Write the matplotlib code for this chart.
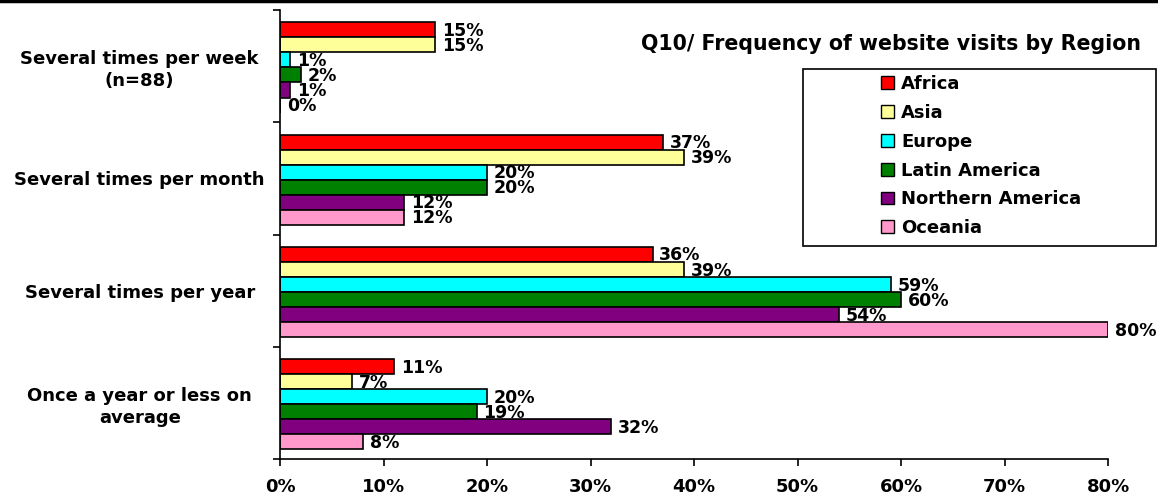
import numpy as np
import matplotlib.pyplot as plt
from matplotlib.patches import Patch, Rectangle
from matplotlib.lines import Line2D

plt.rcParams["font.family"] = ["DejaVu Sans"]
plt.rcParams["font.weight"] = "bold"

categories = [
    "Several times per week\n(n=88)",
    "Several times per month",
    "Several times per year",
    "Once a year or less on\naverage",
]
regions = ["Africa", "Asia", "Europe", "Latin America", "Northern America", "Oceania"]
colors = ["#FF0000", "#FFFF99", "#00FFFF", "#008000", "#800080", "#FF99CC"]

africa = [15, 37, 36, 11]
asia = [15, 39, 39, 7]
europe = [1, 20, 59, 20]
latin_america = [2, 20, 60, 19]
northern_america = [1, 12, 54, 32]
oceania = [0, 12, 80, 8]
series = [africa, asia, europe, latin_america, northern_america, oceania]

W, H = 1158, 499
fig = plt.figure(figsize=(W / 100, H / 100), dpi=100)
ax = fig.add_axes([280 / W, 1 - 459 / H, 828 / W, 449 / H])

bar_h = 15 / 112
y = np.arange(len(categories))
for k, (vals, name, c) in enumerate(zip(series, regions, colors)):
    pos = y - 0.39 + (k + 0.5) * bar_h
    ax.barh(pos, vals, height=bar_h, color=c, edgecolor="black", linewidth=1.2, label=name)
    for p, v in zip(pos, vals):
        ax.text(v + 0.65, p + 0.01, f"{v}%", va="center", ha="left",
                fontsize=12.5, fontweight="bold")

ax.set_xlim(0, 80)
ax.set_ylim(len(categories) - 0.5, -0.5)
ax.set_xticks(np.arange(0, 81, 10))
ax.set_xticklabels([f"{t}%" for t in range(0, 81, 10)], fontsize=13, fontweight="bold")
ax.set_yticks(y)
ax.set_yticklabels(categories, fontsize=13, fontweight="bold", ha="center",
                   linespacing=1.3)
ax.tick_params(axis="y", length=0, pad=101)
ax.set_yticks(np.arange(-0.5, len(categories)), minor=True)
ax.tick_params(axis="y", which="minor", length=5, width=1.2)
ax.tick_params(axis="x", length=5, width=1.2, pad=9)
for s in ["top", "right"]:
    ax.spines[s].set_visible(False)
for s in ["left", "bottom"]:
    ax.spines[s].set_linewidth(1.2)

# legend frame + entries
fig.add_artist(Rectangle((803 / W, 1 - 246 / H), 353 / W, 177 / H, transform=fig.transFigure,
                         facecolor="white", edgecolor="black", linewidth=1.2, zorder=3))
handles = [Patch(facecolor=c, edgecolor="black", label=r) for r, c in zip(regions, colors)]
leg = fig.legend(handles=handles, loc="upper left", bbox_to_anchor=(881 / W, 1 - 75 / H),
                 frameon=False, fontsize=13, handlelength=0.72, handleheight=0.72,
                 labelspacing=0.6, borderpad=0, handletextpad=0.4, borderaxespad=0)
leg.set_zorder(4)
for t in leg.get_texts():
    t.set_fontweight("bold")

fig.text(891 / W, 1 - 44 / H, "Q10/ Frequency of website visits by Region", ha="center",
         va="center", fontsize=14.8, fontweight="bold")
fig.add_artist(Line2D([0, 1], [0.997, 0.997], color="black", linewidth=2.5,
                      transform=fig.transFigure))

fig.savefig("out.png", dpi=100)
